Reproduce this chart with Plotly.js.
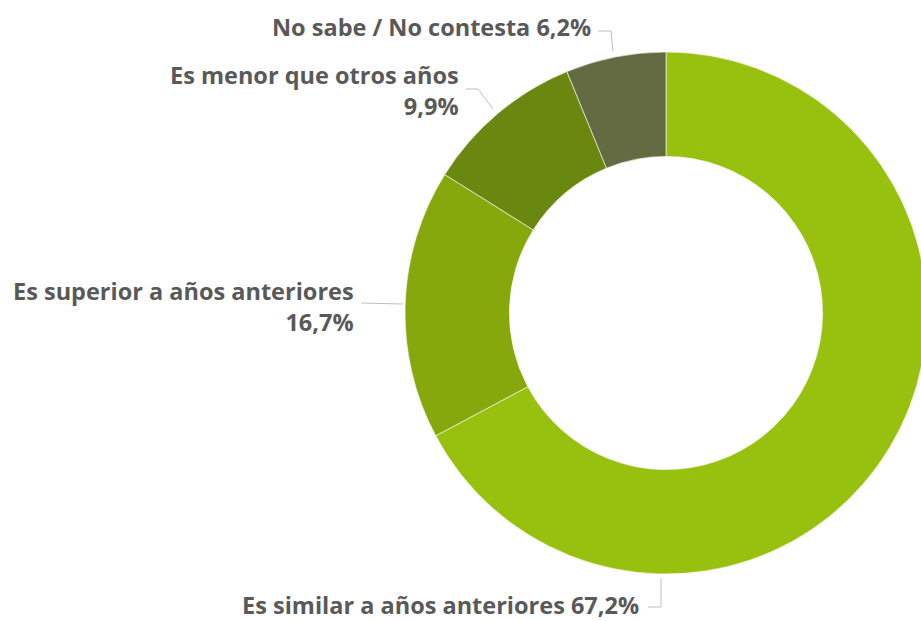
<!DOCTYPE html>
<html>
<head>
<meta charset="utf-8">
<script src="https://cdn.plot.ly/plotly-3.0.1.min.js"></script>
<style>
html,body{margin:0;padding:0;overflow:hidden;background:#fff;}
#chart{width:1000px;height:621px;}
</style>
</head>
<body>
<div id="chart"></div>
<script>
var labels = ["Es similar a años anteriores", "Es superior a años anteriores", "Es menor que otros años", "No sabe / No contesta"];
var values = [67.2, 16.7, 9.9, 6.2];
var colors = ["#98C00E", "#87A80C", "#6A870F", "#646B43"];

var W = 1000, H = 621;
function fx(x){ return x / W; }
function fy(y){ return 1 - y / H; }
function fmt(v){ return v.toFixed(1).replace('.', ',') + '%'; }

var cx = 666, cy = 313, R = 261;

var trace = {
  type: 'pie',
  labels: labels,
  values: values,
  hole: 0.6,
  sort: false,
  direction: 'clockwise',
  rotation: 0,
  textinfo: 'none',
  hoverinfo: 'label+percent',
  marker: {colors: colors, line: {color: 'rgba(255,255,255,0.6)', width: 1}},
  domain: {x: [fx(cx - R), fx(cx + R)], y: [fy(cy + R), fy(cy - R)]},
  showlegend: false
};

var font = {family: 'Open Sans, sans-serif', size: 23.5, color: '#595959', weight: 'bold'};

// label placements (pixel layout positions)
var labelPos = [
  {x: 641, y: 605, text: labels[0] + ' ' + fmt(values[0]), path: [[648,607],[661,607],[661,578]]},
  {x: 356, y: 306, text: labels[1] + '<br>' + fmt(values[1]), path: [[361,303],[403,304]]},
  {x: 461, y: 91, text: labels[2] + '<br>' + fmt(values[2]), path: [[466,89],[478,89],[493,109]]},
  {x: 593, y: 27, text: labels[3] + ' ' + fmt(values[3]), path: [[598,31],[611,31],[613,51]]}
];

var annotations = labelPos.map(function(p){
  return {x: fx(p.x), y: fy(p.y), xref: 'paper', yref: 'paper', text: '<b>' + p.text + '</b>',
    showarrow: false, xanchor: 'right', yanchor: 'middle', align: 'right', font: font};
});
var shapes = labelPos.map(function(p){
  var d = p.path.map(function(pt, i){ return (i ? 'L' : 'M') + fx(pt[0]) + ',' + fy(pt[1]); }).join(' ');
  return {type: 'path', xref: 'paper', yref: 'paper', path: d, line: {color: '#BFBFBF', width: 1}};
});

var layout = {
  width: W, height: H,
  margin: {l: 0, r: 0, t: 0, b: 0},
  paper_bgcolor: '#fff',
  annotations: annotations,
  shapes: shapes
};

Plotly.newPlot('chart', [trace], layout, {displayModeBar: false, staticPlot: true});
</script>
</body>
</html>
